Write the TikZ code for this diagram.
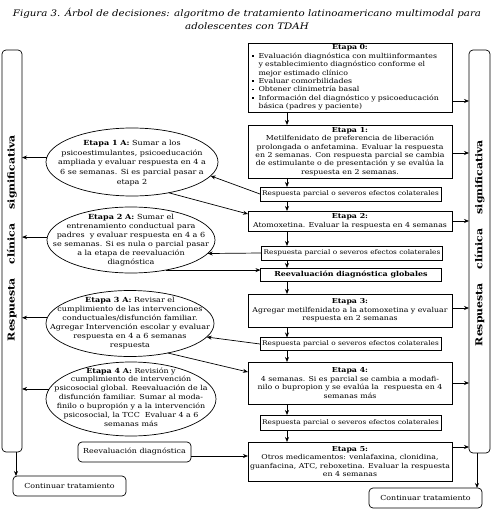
\documentclass[tikz,border=0pt]{standalone}
\usepackage{fontspec}
\setmainfont{DejaVu Serif}[FakeStretch=1.15]
\usetikzlibrary{shapes.geometric,arrows.meta}
\newcommand{\bul}{\makebox[6.5pt][l]{\raisebox{1.5pt}{\rule{1.5pt}{1.5pt}}}}
\newcommand{\ind}{\hspace*{6.5pt}}
\begin{document}
\begin{tikzpicture}[x=1pt,y=-1pt,
  every node/.style={inner sep=0pt, outer sep=0pt},
  box/.style={draw, line width=0.9pt, fill=white, minimum width=204pt, align=center, font=\fontsize{6.8}{8.4}\selectfont},
  rbox/.style={draw, line width=0.8pt, fill=white, minimum width=181pt, minimum height=14pt, align=center, font=\fontsize{6.4}{8}\selectfont},
  ell/.style={draw, ellipse, line width=0.7pt},
  etxt/.style={align=center, font=\fontsize{7.0}{9.6}\selectfont},
  etxts/.style={align=center, font=\fontsize{7.0}{9.0}\selectfont},
  panel/.style={draw, rounded corners=4pt, line width=0.7pt, minimum width=20pt},
  term/.style={draw, rounded corners=4pt, line width=0.7pt, minimum width=113pt, minimum height=20pt, font=\fontsize{6.9}{8}\selectfont},
  vtxt/.style={rotate=90, font=\fontsize{9.5}{10}\bfseries},
  arr/.style={-{Stealth[length=5pt,width=4pt]}, line width=0.7pt}
]
\useasboundingbox (0,0) rectangle (494,521);

% title
\node[font=\fontsize{8.9}{13}\itshape, align=center] (title) at (247,18.5)
  {Figura 3. Árbol de decisiones: algoritmo de tratamiento latinoamericano multimodal para\\adolescentes con TDAH};

% side panels
\node[panel, minimum height=402pt] (lp) at (12,251) {};
\node[vtxt] (lpt) at (12,238) {Respuesta\hspace{14pt}clínica\hspace{14pt}significativa};
\node[panel, minimum height=403pt, minimum width=21pt] (rp) at (479.5,251.5) {};
\node[vtxt] (rpt) at (479.5,243) {Respuesta\hspace{14pt}clínica\hspace{14pt}significativa};

% main column
\coordinate (vx) at (287,0);
\node[box, minimum height=69pt, text width=196pt, align=left] (b0) at (350,77.5)
  {{\centering\textbf{Etapa 0:}\par}
   \bul Evaluación diagnóstica con multiinformantes\\
   \ind y establecimiento diagnóstico conforme el\\
   \ind mejor estimado clínico\\
   \bul Evaluar comorbilidades\\
   \bul Obtener clinimetría basal\\
   \bul Información del diagnóstico y psicoeducación\\
   \ind básica (padres y paciente)};
\node[box, minimum height=53pt] (b1) at (350,151.5)
  {\textbf{Etapa 1:}\\Metilfenidato de preferencia de liberación\\prolongada o anfetamina. Evaluar la respuesta\\en 2 semanas. Con respuesta parcial se cambia\\de estimulante o de presentación y se evalúa la\\respuesta en 2 semanas.};
\node[rbox] (r1) at (350.5,194) {Respuesta parcial o severos efectos colaterales};
\node[box, minimum height=20pt] (b2) at (350,221)
  {\textbf{Etapa 2:}\\Atomoxetina. Evaluar la respuesta en 4 semanas};
\node[rbox] (r2) at (352,253) {Respuesta parcial o severos efectos colaterales};
\node[rbox, minimum height=13pt, font=\fontsize{6.9}{8}\bfseries] (rv) at (351,274.5) {Reevaluación diagnóstica globales};
\node[box, minimum height=33pt] (b3) at (350,310.5)
  {\textbf{Etapa 3:}\\Agregar metilfenidato a la atomoxetina y evaluar\\respuesta en 2 semanas};
\node[rbox, minimum height=13pt] (r3) at (350.5,344) {Respuesta parcial o severos efectos colaterales};
\node[box, minimum height=42pt] (b4) at (350,383)
  {\textbf{Etapa 4:}\\4 semanas. Si es parcial se cambia a modafi-\\nilo o bupropion y se evalúa la\ \ respuesta en 4\\semanas más};
\node[rbox, minimum height=15pt] (r4) at (350.5,422.5) {Respuesta parcial o severos efectos colaterales};
\node[box, minimum height=39pt] (b5) at (350,461.5)
  {\textbf{Etapa 5:}\\Otros medicamentos: venlafaxina, clonidina,\\guanfacina, ATC, reboxetina. Evaluar la respuesta\\en 4 semanas};

% ellipses
\node[ell, minimum width=172pt, minimum height=68pt] (e1) at (132,162) {};
\node[etxt] (e1t) at (132,163)
  {\textbf{Etapa 1 A:} Sumar a los\\psicoestimulantes, psicoeducación\\ampliada y evaluar respuesta en 4 a\\6 se semanas. Si es parcial pasar a\\etapa 2};
\node[ell, minimum width=168pt, minimum height=66pt] (e2) at (131,240) {};
\node[etxts] (e2t) at (131,240)
  {\textbf{Etapa 2 A:} Sumar el\\entrenamiento conductual para\\padres\ \ y evaluar respuesta en 4 a 6\\se semanas. Si es nula o parcial pasar\\a la etapa de reevaluación\\diagnóstica};
\node[ell, minimum width=168pt, minimum height=66pt] (e3) at (130,323.5) {};
\node[etxts] (e3t) at (130,323)
  {\textbf{Etapa 3 A:} Revisar el\\cumplimiento de las intervenciones\\conductuales/disfunción familiar.\\Agregar Intervención escolar y evaluar\\respuesta en 4 a 6 semanas\\respuesta};
\node[ell, minimum width=170pt, minimum height=74pt] (e4) at (131,399) {};
\node[etxt, font=\fontsize{6.9}{8.9}\selectfont] (e4t) at (131,397)
  {\textbf{Etapa 4 A:} Revisión y\\cumplimiento de intervención\\psicosocial global. Reevaluación de la\\disfunción familiar. Sumar al moda-\\finilo o bupropión y a la intervención\\psicosocial, la TCC\ \ Evaluar 4 a 6\\semanas más};

% bottom-left boxes
\node[term] (rd) at (134.5,452) {Reevaluación diagnóstica};
\node[term] (c1) at (69.5,486) {Continuar tratamiento};
\node[term] (c2) at (425.5,498) {Continuar tratamiento};

% vertical flow
\draw[arr] (b0.south -| vx) -- (b1.north -| vx);
\draw[arr] (b1.south -| vx) -- (r1.north -| vx);
\draw[arr] (r1.south -| vx) -- (b2.north -| vx);
\draw[arr] (b2.south -| vx) -- (r2.north -| vx);
\draw[arr] (r2.south -| vx) -- (rv.north -| vx);
\draw[arr] (rv.south -| vx) -- (b3.north -| vx);
\draw[arr] (b3.south -| vx) -- (r3.north -| vx);
\draw[arr] (r3.south -| vx) -- (b4.north -| vx);
\draw[arr] (b4.south -| vx) -- (r4.north -| vx);
\draw[arr] (r4.south -| vx) -- (b5.north -| vx);

% to right panel
\draw[arr] (b0.east |- 0,101) -- (rp.west |- 0,101);
\draw[arr] (b1.east |- 0,153) -- (rp.west |- 0,153);
\draw[arr] (b2.east |- 0,221) -- (rp.west |- 0,221);
\draw[arr] (b3.east |- 0,308) -- (rp.west |- 0,308);
\draw[arr] (b4.east |- 0,383) -- (rp.west |- 0,383);
\draw[arr] (b5.east |- 0,447) -- (rp.west |- 0,447);

% ellipses to left panel
\draw[arr] (e1.177) -- (e1.177 -| lp.east);
\draw[arr] (e2.178) -- (e2.178 -| lp.east);
\draw[arr] (e3.176) -- (e3.176 -| lp.east);
\draw[arr] (e4.173) -- (e4.173 -| lp.east);

% diagonal connectors
\draw[arr] (r1.west) -- (e1.-10);
\draw[arr] (e1.-40) -- (b2.west |- 0,214);
\draw[arr] (r2.west) -- (e2.-10);
\draw[arr] (e2.-41) -- (e2.-41 -| rv.west);
\draw[arr] (r3.west) -- (e3.-10);
\draw[arr] (e3.-38) -- (b4.west |- 0,372);
\draw[arr] (rd.east |- 0,456) -- (b5.west |- 0,456);

% continue
\draw[arr] (lp.south -| 16,0) -- (c1.north -| 16,0);
\draw[arr] (rp.south -| 477,0) -- (c2.north -| 477,0);
\end{tikzpicture}
\end{document}
